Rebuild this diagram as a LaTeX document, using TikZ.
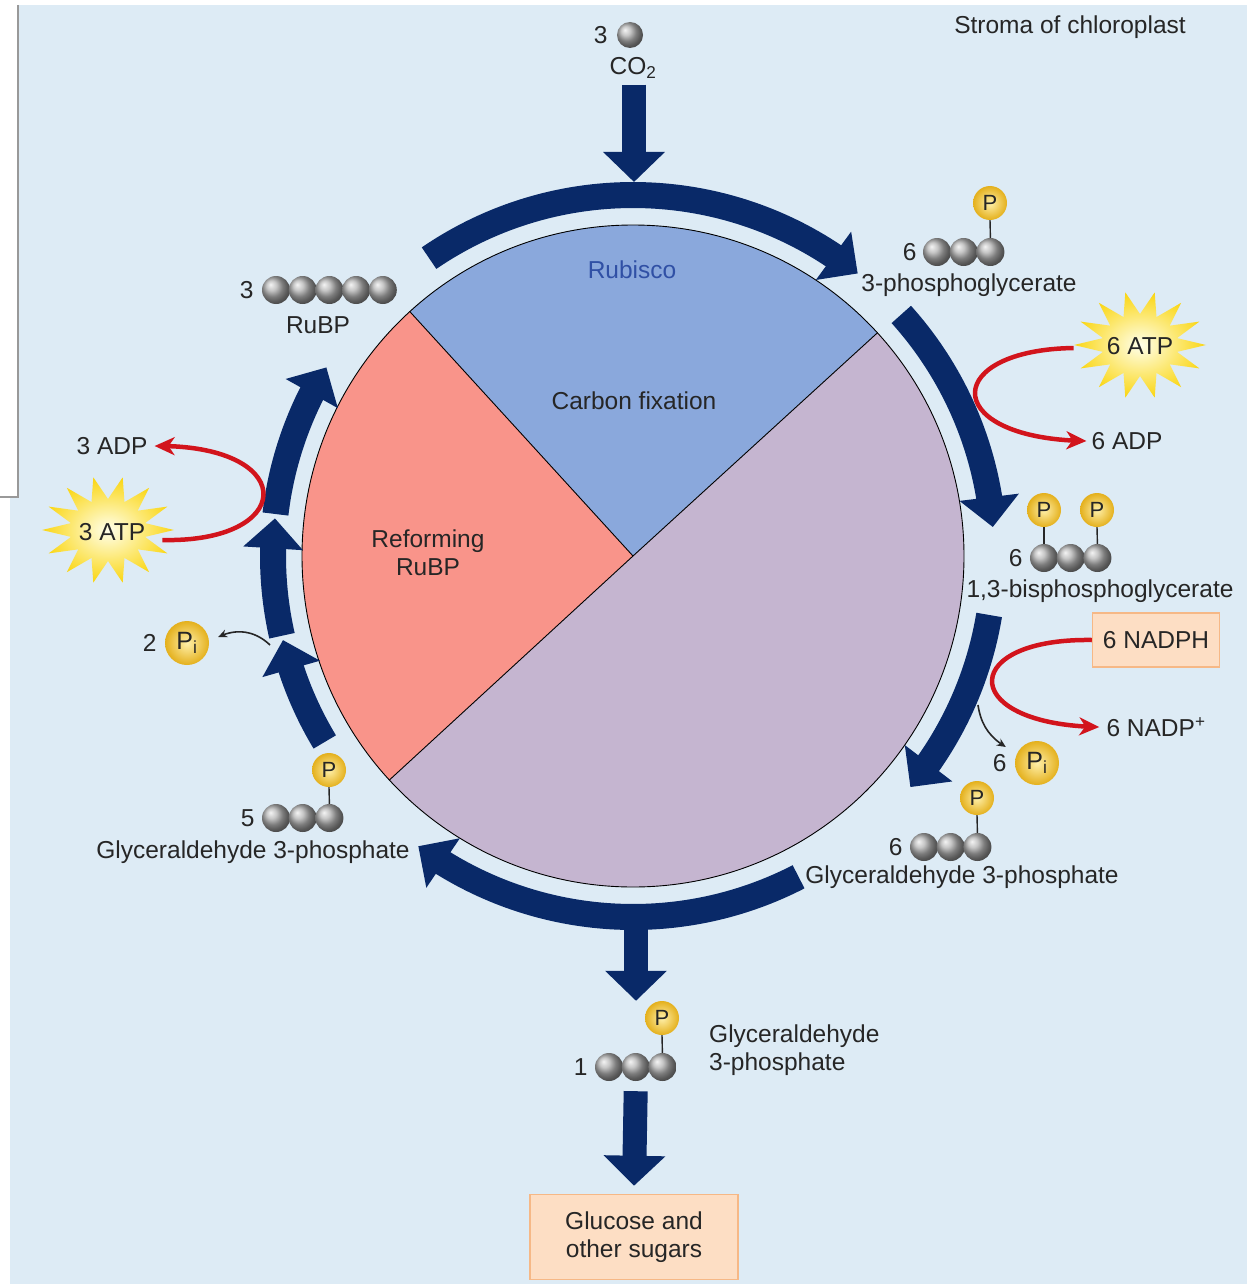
\documentclass[tikz,border=0pt]{standalone}
\usepackage{fontspec}
\setmainfont{Liberation Sans}
\usetikzlibrary{arrows.meta,bending,calc,positioning}

\definecolor{stroma}{RGB}{221,235,245}
\definecolor{navy}{RGB}{9,41,104}
\definecolor{fixblue}{RGB}{138,168,220}
\definecolor{reformred}{RGB}{249,148,138}
\definecolor{reducemauve}{RGB}{197,181,208}
\definecolor{atpred}{RGB}{210,20,28}
\definecolor{sugarfill}{RGB}{253,222,196}
\definecolor{sugarline}{RGB}{246,184,134}
\definecolor{pgold}{RGB}{228,176,28}
\definecolor{pgoldlight}{RGB}{255,240,170}
\definecolor{inktext}{RGB}{38,38,38}
\definecolor{rubiscoblue}{RGB}{48,80,165}
\definecolor{burstyellow}{RGB}{250,214,20}

\newcommand{\labelfont}{\fontsize{24.5}{28}\selectfont}

\tikzset{
  lbl/.style={text=inktext, inner sep=1pt, font=\labelfont},
  cball/.style={circle, minimum size=28pt, inner sep=0pt, ball color=gray!60},
  pball/.style={circle, minimum size=34pt, inner sep=0pt, inner color=pgoldlight,
    outer color=pgold, text=inktext, font=\fontsize{22}{22}\selectfont},
  piball/.style={pball, minimum size=44pt, font=\fontsize{25}{25}\selectfont},
  pstem/.style={inktext, line width=1.4pt},
  cyclearc/.style={navy, line width=26pt, -{Triangle[length=30pt,width=58pt]}},
  bigdown/.style={navy, line width=24pt, -{Triangle[length=30pt,width=60pt]}},
  redarr/.style={atpred, line width=4.5pt, -{Stealth[length=20pt,width=18pt,inset=6pt]}},
  piarr/.style={inktext, line width=1.6pt, -{Stealth[length=9pt,width=8pt]}},
  sugarbox/.style={draw=sugarline, fill=sugarfill, line width=1.5pt, align=center,
    inner sep=0pt, text=inktext, font=\labelfont},
}

% a row of carbon balls: name, x of first ball, y, count
\newcommand{\carbons}[4]{%
  \foreach \i in {1,...,#4}
    \node[cball] (#1-\i) at ({#2+(\i-1)*26.7},#3) {};}

% the yellow energy burst round a coordinate
\newcommand{\burst}[1]{%
  \shade[inner color=yellow!8, outer color=burstyellow]
    (#1) +(0:66 and 54)
    \foreach \k in {1,...,27}{ -- +({\k*360/28}:{38+28*mod(\k+1,2)} and {31+23*mod(\k+1,2)}) }
    -- cycle;}

\begin{document}
\begin{tikzpicture}[x=1pt,y=1pt]
\useasboundingbox (0,0) rectangle (1247,-1284);
\fill[white] (0,0) rectangle (1247,-1284);
\fill[stroma] (10,-5) rectangle (1247,-1284);
\fill[white] (0,0) rectangle (18,-497);
\draw[gray!80, line width=1.5pt] (18,-5) -- (18,-497) -- (0,-497);

\node[lbl] (stroma) at (1070,-27) {Stroma of chloroplast};

% the pie in the middle
\coordinate (C) at (633,-556);
\fill[fixblue] (C) -- ++(42.4:331) arc[start angle=42.4,end angle=132.4,radius=331] -- cycle;
\fill[reformred] (C) -- ++(132.4:331) arc[start angle=132.4,end angle=222.6,radius=331] -- cycle;
\fill[reducemauve] (C) -- ++(222.6:331) arc[start angle=222.6,end angle=402.4,radius=331] -- cycle;
\draw[line width=0.9pt] (C) circle[radius=331];
\foreach \a in {42.4,132.4,222.6} \draw[line width=0.9pt] (C) -- ++(\a:331);

\node[lbl, text=rubiscoblue] (rubisco) at (632,-270) {Rubisco};
\node[lbl] (fixation) at (634,-401) {Carbon fixation};
\node[lbl, align=center] (reform) at (428,-553) {Reforming\\RuBP};

% arrows round the cycle
\draw[cyclearc] ($(C)+(124.4:361)$) arc[start angle=124.4,end angle=51.5,radius=361];
\draw[cyclearc] ($(C)+(42:361)$) arc[start angle=42,end angle=4.6,radius=361];
\draw[cyclearc] ($(C)+(-9.4:361)$) arc[start angle=-9.4,end angle=-39.8,radius=361];
\draw[cyclearc] ($(C)+(-62.7:361)$) arc[start angle=-62.7,end angle=-126.5,radius=361];
\draw[cyclearc] ($(C)+(173.3:360)$) arc[start angle=173.3,end angle=148.4,radius=360];
\draw[cyclearc] ($(C)+(192.8:360)$) arc[start angle=192.8,end angle=174,radius=360];
\draw[cyclearc] ($(C)+(211.1:360)$) arc[start angle=211.1,end angle=193.5,radius=360];

% CO2 in
\node[cball, minimum size=26pt] (co2ball) at (630,-35) {};
\node[lbl, left=8pt of co2ball] (co2n) {3};
\node[lbl] (co2) at (633,-68) {CO\textsubscript{2}};
\coordinate (topin) at (634,-182);
\draw[bigdown] ([xshift=1pt,yshift=-5pt]co2.south) -- (topin);

% 3-phosphoglycerate
\carbons{pga}{937}{-252}{3}
\node[pball] (pgaP) at (990,-203) {P};
\draw[pstem] (pga-3.north) -- (pgaP.south);
\node[lbl, left=5pt of pga-1] (pgan) {6};
\node[lbl] (pgalbl) at (969,-285) {3-phosphoglycerate};

% 1,3-bisphosphoglycerate
\carbons{bpg}{1044}{-558}{3}
\node[pball] (bpgP1) at (1044,-510) {P};
\node[pball] (bpgP2) at (1097,-510) {P};
\draw[pstem] (bpg-1.north) -- (bpgP1.south);
\draw[pstem] (bpg-3.north) -- (bpgP2.south);
\node[lbl, left=6pt of bpg-1] (bpgn) {6};
\node[lbl] (bpglbl) at (1100,-591) {1,3-bisphosphoglycerate};

% glyceraldehyde 3-phosphate, right
\carbons{gapR}{924}{-847}{3}
\node[pball] (gapRP) at (977,-798) {P};
\draw[pstem] (gapR-3.north) -- (gapRP.south);
\node[lbl, left=6pt of gapR-1] (gapRn) {6};
\node[lbl] (gapRlbl) at (962,-877) {Glyceraldehyde 3-phosphate};

% glyceraldehyde 3-phosphate, left
\carbons{gapL}{276}{-818}{3}
\node[pball] (gapLP) at (329,-770) {P};
\draw[pstem] (gapL-3.north) -- (gapLP.south);
\node[lbl, left=6pt of gapL-1] (gapLn) {5};
\node[lbl] (gapLlbl) at (253,-852) {Glyceraldehyde 3-phosphate};

% RuBP
\carbons{rubp}{276}{-290}{5}
\node[lbl, left=7pt of rubp-1] (rubpn) {3};
\node[lbl] (rubplbl) at (318,-325) {RuBP};

% glyceraldehyde 3-phosphate leaving the cycle
\carbons{gapO}{609}{-1067}{3}
\node[pball] (gapOP) at (662,-1018) {P};
\draw[pstem] (gapO-3.north) -- (gapOP.south);
\node[lbl, left=6pt of gapO-1] (gapOn) {1};
\node[lbl, anchor=west, align=left] (gapOlbl) at (708,-1050) {Glyceraldehyde\\3-phosphate};
\coordinate (botout) at (636,-915);
\draw[bigdown] (botout) -- (botout |- gapOP.north);

\node[sugarbox, minimum width=208pt, minimum height=85pt] (sugar) at (634,-1237) {Glucose and\\other sugars};
\draw[bigdown] ([yshift=-10pt]gapO-2.south) -- ([yshift=8pt]sugar.north);

% ATP and NADPH
\coordinate (burstR) at (1140,-345);
\coordinate (burstL) at (108,-530);
\burst{burstR}
\burst{burstL}
\node[lbl] (atpR) at (1140,-346) {6 ATP};
\node[lbl] (adpR) at (1127,-441) {6 ADP};
\node[lbl] (atpL) at (112,-532) {3 ATP};
\node[lbl] (adpL) at (112,-446) {3 ADP};
\node[sugarbox, minimum width=127pt, minimum height=54pt] (nadph) at (1156,-640) {6 NADPH};
\node[lbl] (nadpR) at (1156,-727) {6 NADP\textsuperscript{+}};

\draw[redarr] ([xshift=-32pt,yshift=-2pt]atpR.west) .. controls +(-133,-2) and +(-147,2) .. ([xshift=-4pt]adpR.west);
\draw[redarr] (nadph.west) .. controls +(-134,2) and +(-142,2) .. ([xshift=-6pt]nadpR.west);
\draw[redarr] ([xshift=16pt,yshift=-8pt]atpL.east) .. controls +(135,-3) and +(145,2) .. ([xshift=6pt]adpL.east);

% inorganic phosphate
\node[piball] (piR) at (1037,-763) {P\textsubscript{i}};
\node[lbl, left=7pt of piR] (piRn) {6};
\node[piball] (piL) at (187,-643) {P\textsubscript{i}};
\node[lbl, left=7pt of piL] (piLn) {2};
\coordinate (pjoinR) at (978,-705);
\coordinate (pjoinL) at (270,-645);
\draw[piarr] (pjoinR) to[bend right=25] ([xshift=-9pt,yshift=16pt]piR.west);
\draw[piarr] (pjoinL) to[bend right=35] ([xshift=9pt,yshift=6pt]piL.east);
\end{tikzpicture}
\end{document}
